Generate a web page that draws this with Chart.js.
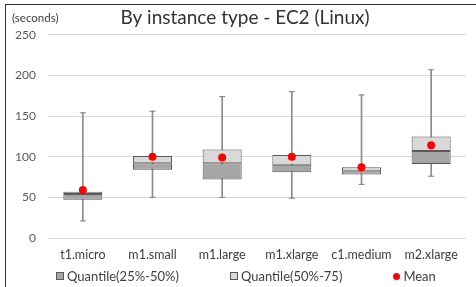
<!DOCTYPE html>
<html lang="en">
<head>
    <meta charset="UTF-8">
    <title>By instance type - EC2 (Linux)</title>
    <script src="https://cdn.jsdelivr.net/npm/chart.js"></script>
    <style>
        * { box-sizing: border-box; }
        body { margin: 0; padding: 0; background: #fff; width: 476px; height: 287px; overflow: hidden;
               font-family: Lato, "Open Sans", sans-serif; }
        .frame {
            position: absolute; left: 5px; top: 4px;
            width: 471px; height: 283px;
            border-left: 1px solid #333; border-top: 1px solid #333;
        }
        canvas { display: block; }
        .legend {
            position: absolute; left: 56px; top: 268px;
            display: flex; gap: 51px; align-items: center;
            font-size: 13px; color: #404040; white-space: nowrap;
        }
        .legend span { display: inline-flex; align-items: center; }
        .legend i { display: inline-block; margin-right: 3px; }
        .legend i.box { width: 8px; height: 8px; border: 1px solid #595959; }
        .legend i.dot { width: 7px; height: 7px; border-radius: 50%; }
    </style>
</head>
<body>
    <div class="frame"><canvas id="boxChart" width="470" height="282"></canvas></div>
    <div class="legend" id="legend"></div>

    <script>
        // values (seconds)
        const categories = ['t1.micro', 'm1.small', 'm1.large', 'm1.xlarge', 'c1.medium', 'm2.xlarge'];
        const minVals    = [21, 50, 50, 49, 66, 76];
        const q1Vals     = [47, 84, 72, 81, 78, 91];
        const medianVals = [54, 92, 92, 90, 82, 107];
        const q3Vals     = [57, 101, 109, 102, 87, 125];
        const maxVals    = [154, 156, 174, 180, 176, 207];
        const meanVals   = [59, 100, 99, 100, 87, 114];
        const legendNames = ['Quantile(25%-50%)', 'Quantile(50%-75)', 'Mean'];

        const font = 'Lato, "Open Sans", sans-serif';

        const unitLabel = {
            id: 'unitLabel',
            afterDraw(chart) {
                const ctx = chart.ctx;
                ctx.save();
                ctx.font = '11.5px ' + font;
                ctx.fillStyle = '#404040';
                ctx.textBaseline = 'middle';
                ctx.fillText('(seconds)', 6, 13);
                ctx.restore();
            }
        };

        const chart = new Chart(document.getElementById('boxChart'), {
            type: 'bar',
            data: {
                labels: categories,
                datasets: [
                    {
                        label: 'whisker',
                        data: minVals.map((v, i) => [v, maxVals[i]]),
                        backgroundColor: '#8c8c8c',
                        barThickness: 1,
                        grouped: false,
                        order: 5
                    },
                    {
                        label: 'min',
                        type: 'line',
                        data: minVals,
                        showLine: false,
                        pointStyle: 'line',
                        pointRadius: 3,
                        borderColor: '#7f7f7f',
                        borderWidth: 1,
                        order: 4
                    },
                    {
                        label: 'max',
                        type: 'line',
                        data: maxVals,
                        showLine: false,
                        pointStyle: 'line',
                        pointRadius: 3,
                        borderColor: '#7f7f7f',
                        borderWidth: 1,
                        order: 4
                    },
                    {
                        label: 'Quantile(25%-50%)',
                        data: q1Vals.map((v, i) => [v, medianVals[i]]),
                        backgroundColor: '#a6a6a6',
                        borderColor: '#595959',
                        borderWidth: 1,
                        borderSkipped: false,
                        grouped: false,
                        order: 3
                    },
                    {
                        label: 'Quantile(50%-75)',
                        data: medianVals.map((v, i) => [v, q3Vals[i]]),
                        backgroundColor: '#d9d9d9',
                        borderColor: '#595959',
                        borderWidth: 1,
                        borderSkipped: false,
                        grouped: false,
                        order: 3
                    },
                    {
                        label: 'Mean',
                        type: 'line',
                        data: meanVals,
                        showLine: false,
                        pointStyle: 'circle',
                        pointRadius: 4,
                        backgroundColor: '#ff0000',
                        borderWidth: 0,
                        order: 1
                    }
                ]
            },
            options: {
                responsive: false,
                animation: false,
                // left > right so the title sits a little right of centre, like the original
                layout: { padding: { left: 8, right: 0, top: 0, bottom: 16 } },
                datasets: {
                    bar: { categoryPercentage: 1, barPercentage: 0.56 }
                },
                plugins: {
                    title: {
                        display: true,
                        text: 'By instance type - EC2 (Linux)',
                        color: '#333',
                        font: { family: font, size: 19, weight: 'normal' },
                        padding: { top: 1, bottom: 6 }
                    },
                    legend: { display: false },
                    tooltip: { enabled: false }
                },
                scales: {
                    x: {
                        grid: { display: false, drawTicks: false },
                        border: { display: false },
                        ticks: { color: '#404040', padding: 9, font: { family: font, size: 12.5 } }
                    },
                    y: {
                        min: 0,
                        max: 250,
                        ticks: { stepSize: 50, color: '#595959', padding: 12, font: { family: font, size: 12 } },
                        grid: { color: '#d9d9d9', drawTicks: false },
                        border: { display: false },
                        afterFit(scale) { scale.width = 34; }
                    },
                    // empty right axis, only keeps a small margin right of the plot
                    yRight: {
                        position: 'right',
                        grid: { display: false, drawTicks: false },
                        border: { display: false },
                        ticks: { display: false },
                        afterFit(scale) { scale.width = 10; }
                    }
                }
            },
            plugins: [unitLabel]
        });

        // legend built from the chart's own datasets
        const legendEl = document.getElementById('legend');
        legendNames.forEach(name => {
            const ds = chart.data.datasets.find(d => d.label === name);
            const item = document.createElement('span');
            const mark = document.createElement('i');
            mark.className = ds.type === 'line' ? 'dot' : 'box';
            mark.style.background = ds.backgroundColor;
            item.appendChild(mark);
            item.appendChild(document.createTextNode(name));
            legendEl.appendChild(item);
        });
    </script>
</body>
</html>
